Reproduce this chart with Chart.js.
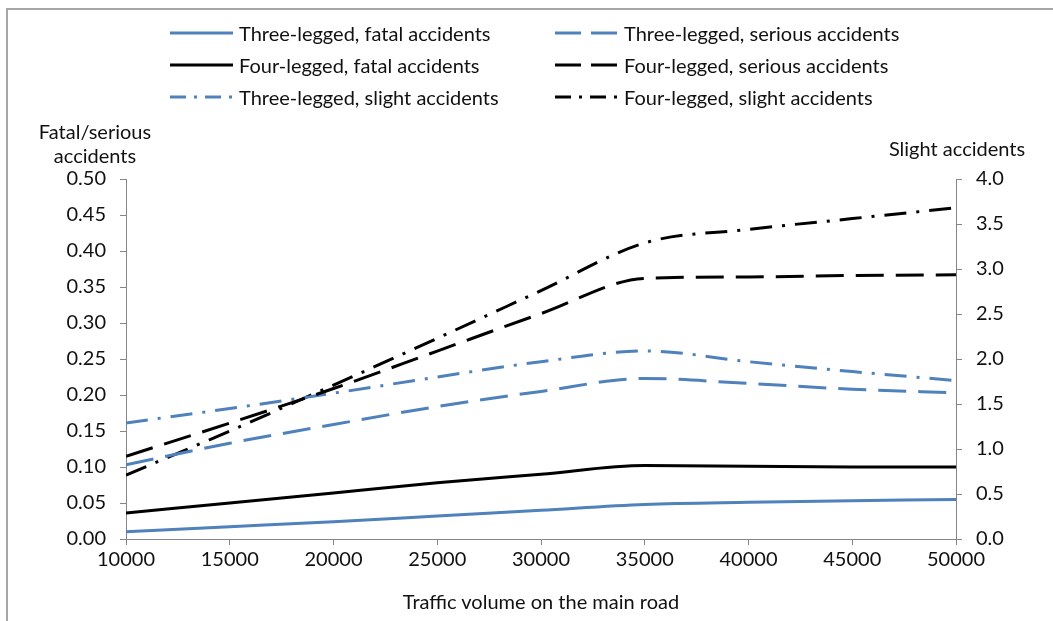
<!DOCTYPE html>
<html>
<head>
<meta charset="utf-8">
<script src="https://cdn.jsdelivr.net/npm/chart.js@4"></script>
<style>
  html, body { margin: 0; padding: 0; background: #fff; }
  #wrap { position: relative; width: 1053px; height: 621px; overflow: hidden; font-family: Lato, sans-serif; color: #111; }
  #frame { position: absolute; left: 6px; top: 8px; right: -10px; bottom: -10px; border-top: 2px solid #a6a6a6; border-left: 2px solid #a6a6a6; }
  canvas { position: absolute; left: 0; top: 0; }
  .lbl { position: absolute; font-size: 20px; white-space: nowrap; }
  .leg { position: absolute; height: 22px; display: flex; align-items: center; font-size: 20px; white-space: nowrap; }
  .leg svg { margin-right: 6px; }
</style>
</head>
<body>
<div id="wrap">
  <div id="frame"></div>
  <canvas id="myChart" width="1053" height="621"></canvas>
  <div id="legend"></div>
  <div class="lbl" style="left:0; width:190px; text-align:center; top:119px; line-height:24px;">Fatal/serious<br>accidents</div>
  <div class="lbl" style="left:857px; width:200px; text-align:center; top:136px;">Slight accidents</div>
  <div class="lbl" style="left:341px; width:400px; text-align:center; top:589px;">Traffic volume on the main road</div>
</div>
<script>
// traffic volume on the main road
const volumes = [10000, 15000, 20000, 25000, 30000, 35000, 40000, 45000, 50000];

// fatal / serious accidents (left axis)
const threeFatal = [0.010, 0.017, 0.024, 0.032, 0.040, 0.048, 0.051, 0.053, 0.055];
const fourFatal = [0.036, 0.050, 0.064, 0.078, 0.090, 0.102, 0.101, 0.100, 0.100];
const threeSerious = [0.103, 0.133, 0.159, 0.184, 0.205, 0.223, 0.216, 0.208, 0.203];
const fourSerious = [0.115, 0.161, 0.209, 0.261, 0.313, 0.362, 0.364, 0.366, 0.367];

// slight accidents (right axis)
const threeSlight = [1.29, 1.45, 1.62, 1.80, 1.97, 2.09, 1.97, 1.86, 1.76];
const fourSlight = [0.71, 1.20, 1.71, 2.23, 2.76, 3.29, 3.44, 3.56, 3.68];

const blue = '#4f81bd';
const black = '#000000';
const dash = [28, 12];
const dashDot = [22, 10, 3, 10];

const series = [
    { label: 'Three-legged, fatal accidents', data: threeFatal, color: blue, dash: [], axis: 'y' },
    { label: 'Three-legged, serious accidents', data: threeSerious, color: blue, dash: dash, axis: 'y' },
    { label: 'Four-legged, fatal accidents', data: fourFatal, color: black, dash: [], axis: 'y' },
    { label: 'Four-legged, serious accidents', data: fourSerious, color: black, dash: dash, axis: 'y' },
    { label: 'Three-legged, slight accidents', data: threeSlight, color: blue, dash: dashDot, axis: 'y2' },
    { label: 'Four-legged, slight accidents', data: fourSlight, color: black, dash: dashDot, axis: 'y2' }
];

// html legend, two columns
const legend = document.getElementById('legend');
series.forEach((s, i) => {
    const col = i % 2;
    const row = Math.floor(i / 2);
    const item = document.createElement('div');
    item.className = 'leg';
    item.style.left = (col ? 555 : 170) + 'px';
    item.style.top = (22 + row * 32) + 'px';
    const legDash = s.dash.length ? (s.dash.length === 2 ? '26 10' : '16 8 3 8') : 'none';
    item.innerHTML = '<svg width="63" height="6"><line x1="0" y1="3" x2="63" y2="3" stroke="' + s.color +
        '" stroke-width="3" stroke-dasharray="' + legDash + '"/></svg>' + s.label;
    legend.appendChild(item);
});

const axisGrey = '#868686';
const tickFont = { family: 'Lato', size: 20 };

var ctx = document.getElementById('myChart').getContext('2d');
// eslint-disable-next-line no-undef
var chart = new Chart(ctx, {
    type: 'line',
    data: {
        datasets: series.map(s => ({
            label: s.label,
            data: s.data.map((v, i) => ({ x: volumes[i], y: v })),
            borderColor: s.color,
            borderWidth: 3,
            borderDash: s.dash,
            pointRadius: 0,
            fill: false,
            cubicInterpolationMode: 'monotone',
            yAxisID: s.axis
        }))
    },
    options: {
        responsive: false,
        animation: false,
        layout: { padding: { top: 179, left: 0, right: 0, bottom: 0 } },
        plugins: { legend: { display: false }, tooltip: { enabled: false } },
        scales: {
            x: {
                type: 'linear',
                min: 10000,
                max: 50000,
                afterFit: s => { s.height = 82; },
                ticks: { stepSize: 5000, color: '#111', font: tickFont, padding: 3, maxRotation: 0, callback: v => String(v) },
                grid: { drawOnChartArea: false, color: axisGrey, tickLength: 6 },
                border: { color: axisGrey }
            },
            y: {
                position: 'left',
                min: 0,
                max: 0.5,
                afterFit: s => { s.width = 126; },
                ticks: { stepSize: 0.05, color: '#111', font: tickFont, padding: 14, callback: v => v.toFixed(2) },
                grid: { drawOnChartArea: false, color: axisGrey, tickLength: 6 },
                border: { color: axisGrey }
            },
            y2: {
                position: 'right',
                min: 0,
                max: 4,
                afterFit: s => { s.width = 97; },
                ticks: { stepSize: 0.5, color: '#111', font: tickFont, padding: 14, callback: v => v.toFixed(1) },
                grid: { drawOnChartArea: false, color: axisGrey, tickLength: 6 },
                border: { color: axisGrey }
            }
        }
    }
});
</script>
</body>
</html>
